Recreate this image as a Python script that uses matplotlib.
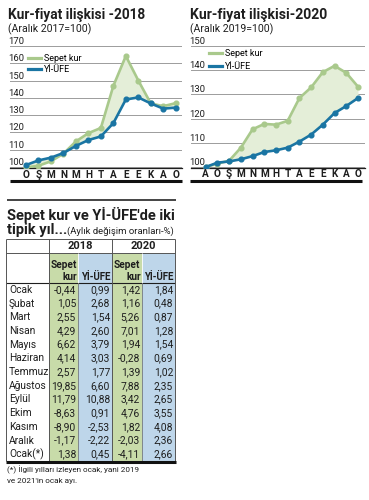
import matplotlib
matplotlib.use('Agg')
import matplotlib.pyplot as plt
from matplotlib import font_manager
from matplotlib.patches import Rectangle
from matplotlib.lines import Line2D
from matplotlib.transforms import blended_transform_factory

# narrow font if available
names = {f.name for f in font_manager.fontManager.ttflist}
FONT = 'Liberation Sans Narrow' if 'Liberation Sans Narrow' in names else 'Roboto'
plt.rcParams['font.family'] = [FONT, 'DejaVu Sans']

# --- data ---
months18 = ['O', 'Ş', 'M', 'N', 'M', 'H', 'T', 'A', 'E', 'E', 'K', 'A', 'O']
months20 = ['A', 'O', 'Ş', 'M', 'N', 'M', 'H', 'T', 'A', 'E', 'E', 'K', 'A', 'O']

kur18 = [99.6, 100.6, 103.2, 107.6, 114.7, 119.5, 122.5, 146.9, 164.2, 150.0, 136.7, 135.1, 136.9]
ufe18 = [101.0, 103.7, 105.3, 108.0, 112.1, 115.5, 117.6, 125.3, 139.0, 140.2, 136.7, 133.7, 134.3]
kur20 = [100.0, 101.4, 102.6, 108.0, 115.6, 117.8, 117.5, 119.1, 128.5, 132.9, 139.2, 141.8, 138.9, 133.2]
ufe20 = [100.0, 101.8, 102.3, 103.2, 104.5, 106.2, 106.9, 108.0, 110.5, 113.4, 117.5, 122.3, 125.2, 128.5]

yticks18 = [100, 110, 120, 130, 140, 150, 160, 170]
yticks20 = [100, 110, 120, 130, 140, 150]

row_names = ['Ocak', 'Şubat', 'Mart', 'Nisan', 'Mayıs', 'Haziran', 'Temmuz',
             'Ağustos', 'Eylül', 'Ekim', 'Kasım', 'Aralık', 'Ocak(*)']
kur18_pct = [-0.44, 1.05, 2.55, 4.29, 6.62, 4.14, 2.57, 19.85, 11.79, -8.63, -8.90, -1.17, 1.38]
ufe18_pct = [0.99, 2.68, 1.54, 2.60, 3.79, 3.03, 1.77, 6.60, 10.88, 0.91, -2.53, -2.22, 0.45]
kur20_pct = [1.42, 1.16, 5.26, 7.01, 1.94, -0.28, 1.39, 7.88, 3.42, 4.76, 1.82, -2.03, -4.11]
ufe20_pct = [1.84, 0.48, 0.87, 1.28, 1.54, 0.69, 1.02, 2.35, 2.65, 3.55, 4.08, 2.36, 2.66]

GREEN = '#a9c98c'
BLUE = '#1a75a3'
FILL = '#e4eed8'
GRID = '#9c9c9c'
CELL_G = '#c8dba9'
CELL_B = '#bed6ea'
INK = '#1e1e1e'

W, H = 369, 500
fig = plt.figure(figsize=(W / 100, H / 100), dpi=100)

bg = fig.add_axes([0, 0, 1, 1])
bg.set_xlim(0, W)
bg.set_ylim(H, 0)
bg.axis('off')


def px_axes(l, t, r, b):
    return fig.add_axes([l / W, 1 - b / H, (r - l) / W, (b - t) / H])


def chart(ax, labels, kur, ufe, ylim, yticks, xlim, leg_anchor, leg_space):
    x = list(range(len(labels)))
    ax.fill_between(x, kur, ufe, color=FILL, lw=0, zorder=1)
    ax.plot(x, kur, color=GREEN, lw=1.9, marker='o', ms=3.4, zorder=3)
    ax.plot(x, ufe, color=BLUE, lw=1.9, marker='o', ms=3.4, zorder=4)
    ax.set_ylim(*ylim)
    ax.set_xlim(*xlim)
    ax.set_yticks(yticks)
    ax.tick_params(axis='y', length=0, labelleft=False)
    ax.grid(axis='y', color=GRID, lw=0.7)
    ax.set_axisbelow(True)
    ax.set_xticks(x)
    ax.set_xticklabels(labels, fontweight='bold', fontsize=7.2, color=INK)
    ax.tick_params(axis='x', length=0, pad=1.2)
    for s in ['top', 'right', 'left']:
        ax.spines[s].set_visible(False)
    ax.spines['bottom'].set_color(INK)
    ax.spines['bottom'].set_linewidth(0.9)
    ax.patch.set_alpha(0)
    tr = blended_transform_factory(ax.transAxes, ax.transData)
    for v in yticks:
        ax.text(-0.012, v, str(v), transform=tr, ha='left', va='bottom',
                fontsize=6.8, color=INK)
    handles = [Line2D([], [], color=GREEN, lw=2.3), Line2D([], [], color=BLUE, lw=2.3)]
    ax.legend(handles, ['Sepet kur', 'Yİ-ÜFE'], loc='upper left',
              bbox_to_anchor=leg_anchor, frameon=False, fontsize=6.5,
              handlelength=1.45, handletextpad=0.3, labelspacing=leg_space,
              borderaxespad=0, borderpad=0)


ax1 = px_axes(10, 46, 182, 168)
chart(ax1, months18, kur18, ufe18, (99.3, 170), yticks18, (-1.28, 12.5), (0.105, 0.935), 0.25)
ax2 = px_axes(191, 46, 365, 167.5)
chart(ax2, months20, kur20, ufe20, (99.8, 150), yticks20, (-1.26, 13.6), (0.103, 0.975), 0.45)

# titles of the charts
bg.text(8, 15, 'Kur-fiyat ilişkisi -2018', fontsize=9.8, fontweight='bold', va='center', color=INK)
bg.text(8, 29, '(Aralık 2017=100)', fontsize=7.6, va='center', color=INK)
bg.text(190, 15, 'Kur-fiyat ilişkisi-2020', fontsize=10.1, fontweight='bold', va='center', color=INK)
bg.text(190, 29, '(Aralık 2019=100)', fontsize=7.6, va='center', color=INK)
bg.hlines(180.5, 10, 182, color='#111111', lw=2.2)
bg.hlines(180.5, 190, 362, color='#111111', lw=2.2)

# table
bg.hlines(200, 7, 176, color='#444444', lw=1.4)
bg.text(7, 215, "Sepet kur ve Yİ-ÜFE'de iki", fontsize=10.5, fontweight='bold', va='center', color=INK)
bg.text(7, 230, 'tipik yıl...', fontsize=10.5, fontweight='bold', va='center', color=INK)
bg.text(67, 231, '(Aylık değişim oranları-%)', fontsize=6.8, va='center', color=INK)

cols = [6, 49, 78, 112, 142, 175]
top, h1, h2 = 239, 253, 283
row_h = 13.7
bottom = h2 + row_h * len(row_names)

for i, c in enumerate([CELL_G, CELL_B, CELL_G, CELL_B]):
    bg.add_patch(Rectangle((cols[i + 1], h1), cols[i + 2] - cols[i + 1], bottom - h1,
                           facecolor=c, edgecolor='none', zorder=0))

bg.hlines([top, h1], cols[0], cols[-1], color='#555555', lw=0.7)
bg.hlines(h2, cols[0], cols[-1], color=INK, lw=0.8)
bg.vlines([cols[0], cols[1], cols[3], cols[5]], top, bottom, color='#555555', lw=0.7)
bg.vlines([cols[2], cols[4]], h1, h2, color='white', lw=0.6)
bg.vlines([cols[2], cols[4]], h2, bottom, color='#666666', lw=0.5)
bg.hlines(bottom + 0.5, cols[0], cols[-1] + 1, color='#111111', lw=2.2)

bg.text((cols[1] + cols[3]) / 2, (top + h1) / 2, '2018', ha='center', va='center',
        fontsize=8, fontweight='bold', color=INK)
bg.text((cols[3] + cols[5]) / 2, (top + h1) / 2, '2020', ha='center', va='center',
        fontsize=8, fontweight='bold', color=INK)
for k in (1, 3):
    bg.text(cols[k] + 1.2, 265, 'Sepet', ha='left', va='center', fontsize=7.3,
            fontweight='bold', color=INK)
    bg.text(cols[k + 1] - 1.2, 276.5, 'kur', ha='right', va='center', fontsize=7.3,
            fontweight='bold', color=INK)
    bg.text(cols[k + 2] - 1.2, 276.5, 'Yİ-ÜFE', ha='right', va='center', fontsize=7,
            fontweight='bold', color=INK)


def fmt(v):
    return f'{v:.2f}'.replace('.', ',')


for i, name in enumerate(row_names):
    y = h2 + row_h * (i + 0.5)
    bg.text(9, y, name, ha='left', va='center', fontsize=7.4, color=INK)
    for k, series in enumerate([kur18_pct, ufe18_pct, kur20_pct, ufe20_pct]):
        bg.text(cols[k + 2] - 2, y, fmt(series[i]), ha='right', va='center',
                fontsize=7.4, color=INK)

bg.text(7, 470, "(*) İlgili yılları izleyen ocak, yani 2019", fontsize=5.9, va='center', color=INK)
bg.text(7, 481, "ve 2021'in ocak ayı.", fontsize=5.9, va='center', color=INK)

fig.savefig('out.png', dpi=100)
